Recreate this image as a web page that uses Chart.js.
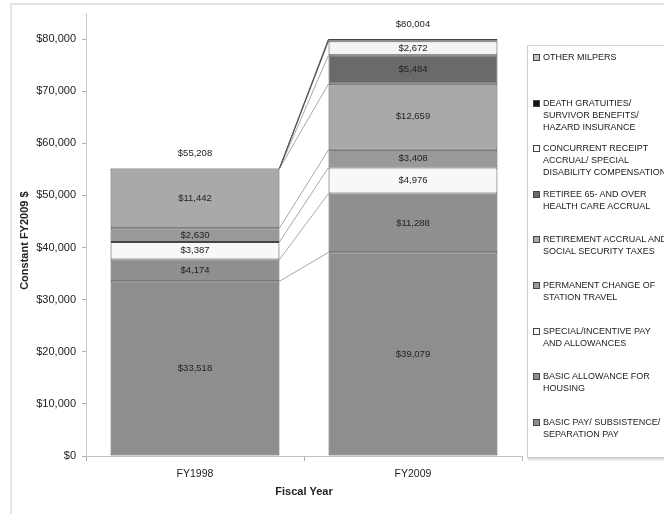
<!DOCTYPE html>
<html>
<head>
<meta charset="utf-8">
<script src="https://cdn.jsdelivr.net/npm/chart.js@4"></script>
<style>
  html, body { margin: 0; padding: 0; width: 664px; height: 514px; overflow: hidden; background: #fff; }
  #wrap { position: relative; width: 664px; height: 514px; font-family: "Liberation Sans", Arial, sans-serif; }
  #frame { position: absolute; left: 10px; top: 3px; width: 700px; height: 600px; border-top: 2px solid #e4e4e4; border-left: 2px solid #e4e4e4; }
  #chart { position: absolute; left: 0; top: 0; }
  #legend { position: absolute; left: 527px; top: 45px; width: 170px; height: 411px; border: 1px solid #d0d0d0; box-shadow: 1px 2px 2px #d6d6d6; background: #fff; }
  .item { position: absolute; left: 5px; font-size: 9px; line-height: 12px; color: #222; white-space: pre; }
  .mark { position: absolute; left: 0; top: 3px; width: 5px; height: 5px; border: 1px solid #444; }
  .txt { position: absolute; left: 10px; top: 0; }
</style>
</head>
<body>
<div id="wrap">
  <div id="frame"></div>
  <canvas id="chart" width="664" height="514"></canvas>
  <div id="legend"></div>
</div>
<script>
// --- data (bottom of the stack first) ---
const categories = ["FY1998", "FY2009"];
const basicPay = [33518, 39079];
const housing = [4174, 11288];
const specialPay = [3387, 4976];
const stationTravel = [2630, 3408];
const retirementAccrual = [11442, 12659];
const retireeHealth = [0, 5484];
const concurrentReceipt = [0, 2672];
const deathGratuities = [27, 200];
const otherMilpers = [30, 238];
const totals = [55208, 80004];
const yTickValues = [0, 10000, 20000, 30000, 40000, 50000, 60000, 70000, 80000];

const seriesNames = [
  "BASIC PAY/ SUBSISTENCE/\nSEPARATION PAY",
  "BASIC ALLOWANCE FOR\nHOUSING",
  "SPECIAL/INCENTIVE PAY\nAND ALLOWANCES",
  "PERMANENT CHANGE OF\nSTATION TRAVEL",
  "RETIREMENT ACCRUAL AND\nSOCIAL SECURITY TAXES",
  "RETIREE 65- AND OVER\nHEALTH CARE ACCRUAL",
  "CONCURRENT RECEIPT\nACCRUAL/ SPECIAL\nDISABILITY COMPENSATION",
  "DEATH GRATUITIES/\nSURVIVOR BENEFITS/\nHAZARD INSURANCE",
  "OTHER MILPERS"
];
const seriesValues = [basicPay, housing, specialPay, stationTravel, retirementAccrual,
  retireeHealth, concurrentReceipt, deathGratuities, otherMilpers];
const seriesColors = ["#8e8e8e", "#8f8f8f", "#f8f8f8", "#999999", "#a9a9a9",
  "#6a6a6a", "#f4f4f4", "#111111", "#c4c4c4"];

const money = (v) => "$" + v.toLocaleString("en-US");

// lines joining the tops of each segment between the two bars
const connectorPlugin = {
  id: "connectors",
  beforeDatasetsDraw(chart) {
    const y = chart.scales.y;
    const b0 = chart.getDatasetMeta(0).data[0];
    const b1 = chart.getDatasetMeta(0).data[1];
    const x0 = b0.x + b0.width / 2;
    const x1 = b1.x - b1.width / 2;
    const ctx = chart.ctx;
    let c0 = 0, c1 = 0;
    ctx.save();
    ctx.lineWidth = 1;
    chart.data.datasets.forEach((ds, i) => {
      c0 += ds.data[0];
      c1 += ds.data[1];
      ctx.strokeStyle = i >= 7 ? "#555" : "#a8a8a8";
      ctx.beginPath();
      ctx.moveTo(x0, y.getPixelForValue(c0));
      ctx.lineTo(x1, y.getPixelForValue(c1));
      ctx.stroke();
    });
    ctx.restore();
  }
};

// value labels inside segments plus totals above bars
const labelPlugin = {
  id: "valueLabels",
  afterDatasetsDraw(chart) {
    const ctx = chart.ctx;
    const y = chart.scales.y;
    ctx.save();
    ctx.font = "9.5px 'Liberation Sans', Arial, sans-serif";
    ctx.fillStyle = "#222";
    ctx.textAlign = "center";
    ctx.textBaseline = "middle";
    chart.data.datasets.forEach((ds, i) => {
      chart.getDatasetMeta(i).data.forEach((el, j) => {
        const v = ds.data[j];
        if (v < 1000) return;
        ctx.fillText(money(v), el.x, (el.y + el.base) / 2);
      });
    });
    chart.getDatasetMeta(0).data.forEach((el, j) => {
      ctx.fillText(money(totals[j]), el.x, y.getPixelForValue(totals[j]) - 15);
    });
    ctx.restore();
  }
};

const datasets = seriesValues.map((vals, i) => ({
  label: seriesNames[i].replace(/\n/g, " "),
  data: vals,
  backgroundColor: seriesColors[i],
  borderColor: "#454545",
  borderWidth: 1,
  borderSkipped: false,
  barPercentage: 0.775,
  categoryPercentage: 1.0
}));

new Chart(document.getElementById("chart"), {
  type: "bar",
  data: { labels: categories, datasets: datasets },
  options: {
    responsive: false,
    animation: false,
    layout: { padding: { top: 13, left: 10, right: 142, bottom: 13 } },
    plugins: { legend: { display: false }, tooltip: { enabled: false } },
    scales: {
      x: {
        stacked: true,
        grid: { drawOnChartArea: false, tickLength: 5, color: "#b0b0b0", offset: true },
        border: { color: "#c0c0c0" },
        ticks: { color: "#222", font: { family: "'Liberation Sans', Arial", size: 10.5 }, padding: 7 },
        title: { display: true, text: "Fiscal Year", color: "#222",
          font: { family: "'Liberation Sans', Arial", size: 11, weight: "bold" }, padding: { top: 4, bottom: 2 } },
        afterFit(scale) { scale.height = 45; }
      },
      y: {
        stacked: true,
        min: 0,
        max: 85000,
        ticks: {
          stepSize: 10000,
          color: "#222",
          padding: 6,
          font: { family: "'Liberation Sans', Arial", size: 11 },
          callback: (v) => money(v)
        },
        afterBuildTicks(scale) {
          scale.ticks = yTickValues.map((v) => ({ value: v }));
        },
        grid: { drawOnChartArea: false, tickLength: 4, color: "#b0b0b0" },
        border: { color: "#c8c8c8" },
        title: { display: true, text: "Constant FY2009 $\u00a0\u00a0\u00a0\u00a0", color: "#222",
          font: { family: "'Liberation Sans', Arial", size: 11, weight: "bold" }, padding: { top: 8, bottom: 4 } },
        afterFit(scale) { scale.width = 76; }
      }
    }
  },
  plugins: [connectorPlugin, labelPlugin]
});

// legend in the right-hand box, top series first
const legendBox = document.getElementById("legend");
for (let k = 0; k < seriesNames.length; k++) {
  const i = seriesNames.length - 1 - k;
  const item = document.createElement("div");
  item.className = "item";
  item.style.top = (5 + k * 45.6) + "px";
  const mark = document.createElement("div");
  mark.className = "mark";
  mark.style.background = seriesColors[i];
  const txt = document.createElement("div");
  txt.className = "txt";
  txt.textContent = seriesNames[i];
  item.appendChild(mark);
  item.appendChild(txt);
  legendBox.appendChild(item);
}
</script>
</body>
</html>
